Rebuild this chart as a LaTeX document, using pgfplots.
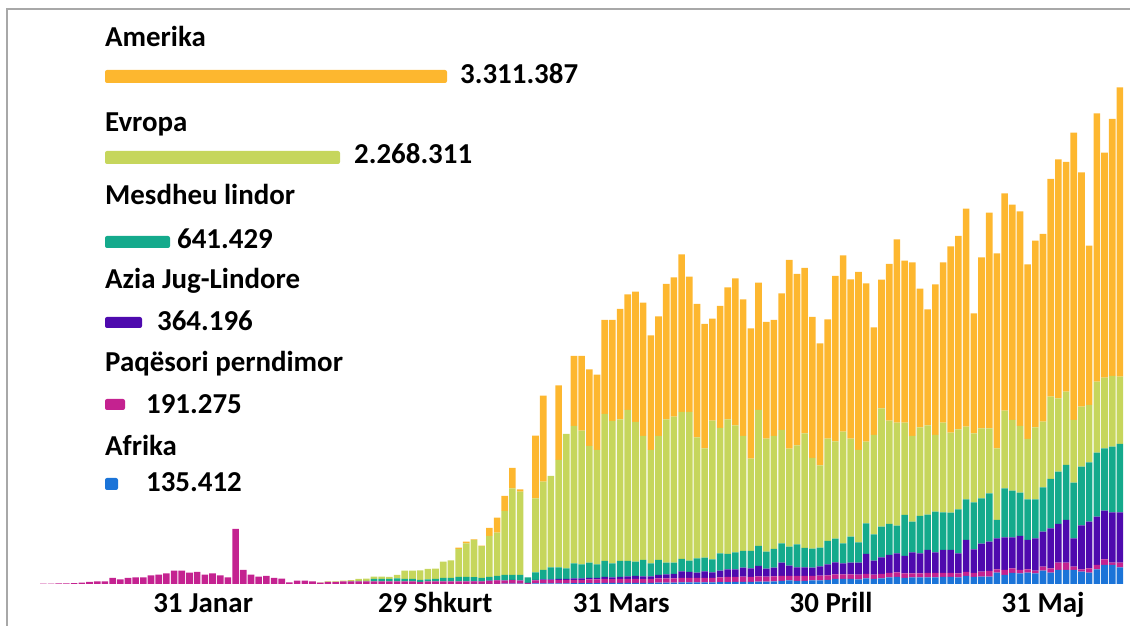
\documentclass[border=0pt]{standalone}
\usepackage{pgfplots}
\pgfplotsset{compat=1.18}
\usepackage{pgfplotstable}
\usepackage{fontspec}
\setmainfont{Carlito}
\definecolor{cAm}{HTML}{FDB72F}
\definecolor{cEu}{HTML}{C6D65C}
\definecolor{cEm}{HTML}{14AA8C}
\definecolor{cSe}{HTML}{4E0AAE}
\definecolor{cWp}{HTML}{C42290}
\definecolor{cAf}{HTML}{1B74D8}
\definecolor{frm}{HTML}{A8A8A8}
\newcommand{\lf}{\fontsize{29}{34}\selectfont\bfseries}

\pgfplotstableread{
i b m p t g o
0 0 0.3 0 0 0 0
1 0 0.3 0 0 0 0
2 0 0.5 0 0 0 0
3 0 0.5 0 0 0 0
4 0 0.8 0 0 0 0
5 0 1.3 0 0 0 0
6 0 2 0 0 0 0
7 0 2.7 0 0 0 0
8 0 2.7 0 0 0 0
9 0 6 0 0 0 0
10 0 4.7 0 0 0 0
11 0 6 0 0 0 0
12 0 6.7 0 0 0 0
13 0 6.7 0 0 0 0
14 0 8.7 0 0 0 0
15 0 9.3 0 0 0 0
16 0 10.7 0 0 0 0
17 0 13.3 0 0 0 0
18 0 13.3 0 0 0 0
19 0 11.3 0 0 0 0
20 0 12 0 0 0 0
21 0 9.3 0 0 0 0
22 0 10.7 0 0 0 0
23 0 8.7 0 0 0 0
24 0 6.7 0 0 0 0
25 0 55 0 0 0 0
26 0 14 0 0 0 0
27 0 9.3 0 0 0 0
28 0 7.3 0 0 0 0
29 0 8 0 0 0 0
30 0 6 0 0 0 0
31 0 5.3 0 0 0 0
32 0 1.7 0 0 0 0
33 0 3.3 0 0 0 0
34 0 3.3 0 0 0 0
35 0 2.7 0 0 0 0
36 0 1.3 0 0 0.3 0
37 0 2 0 0 0.5 0
38 0 2 0 0 0.5 0
39 0 2.5 0 0 0.8 0
40 0 2.5 0 0.3 1.0 0
41 0 2.5 0 0.5 2 0
42 0 2.5 0 0.5 2.3 0
43 0 2.5 0 2.5 2.3 0
44 0 2.5 0 2.5 2.3 0
45 0 2.5 0 2.5 2 0
46 0 2.5 0 3 3.5 0
47 0 2.5 0 2.5 8.3 0
48 0 2.5 0 2.5 8.3 0
49 0 2.2 0 1.8 9.7 0
50 0 2.5 0 2 10.5 0
51 0 2.5 0 2.5 10.3 0
52 0 2.5 0 3.5 16.3 0
53 0 2.5 0 3.5 17.7 0
54 0 2.5 0 4.5 28 1.3
55 0 2.5 0 4.5 33.6 1.7
56 0.2 2.5 0.2 4 37.3 0.5
57 0.2 2.3 0.2 3.3 31.8 0.5
58 0.2 2.8 0.3 3.7 41 8
59 0.2 3.3 0.3 4.2 43.3 15
60 0.3 3 0.3 5.4 64 15
61 0.3 3.5 0.4 4.8 86.7 20.3
62 0.3 3 0.4 5.3 83.3 2.4
63 0.2 0.8 0.2 5.5 0 0
64 0.5 3 0.5 7.7 74 62.6
65 0.5 3.3 0.7 9.5 88.3 86
66 0.6 3.2 0.7 12.2 91.3 0
67 0.7 3.3 1 11.7 107.3 74.7
68 0.7 3.3 1 10.7 134.3 0
69 0.8 3.4 1.3 15.2 137.3 70
70 0.8 3.4 1.3 14.2 133.6 74.7
71 0.9 3.6 1.5 15.3 116.7 76.7
72 0.9 3.6 1.5 13.7 114.3 75.3
73 1 4 2 16 147 94
74 1 3.8 1.7 14.2 142.3 101
75 1 4 2 16 141.7 110.3
76 1.1 3.9 2.5 15.5 151 115.7
77 1.1 4.1 2.8 14.3 139.7 130.3
78 1.2 3.8 2.5 16.5 124 133.3
79 1.2 3.8 2.5 13.2 113.3 114.7
80 1.3 4.2 3.5 15 124 119.7
81 1.3 4.2 4 11.8 143.4 135.3
82 1.4 4.3 4.3 11.3 146 139.4
83 1.5 4.5 6.5 12.5 147 157.5
84 1.5 4.5 6 11.3 148.7 135.3
85 1.6 4.4 5.3 14.4 121 133.3
86 1.7 4.5 6.5 13.6 109.4 124.3
87 1.7 4.3 5.7 13 138.6 102
88 1.8 4.7 6.8 17.4 125.3 122
89 1.9 5.1 7.7 15.3 134.7 132
90 2 5 7.7 17 127 147
91 2 5.3 9 16.7 115 136.7
92 2.1 5.1 8.5 17.3 92.3 130.4
93 2.3 5.2 10.5 20 136 127.3
94 2.3 5 8 17 113 116.7
95 2.5 5 8.8 18.7 113 116
96 3 5 13.3 19.4 113.3 136.7
97 3.5 4.5 10.3 19 98 188.7
98 3.2 4.8 8.7 23 99 171.3
99 3.2 4.8 8.7 19.3 114.7 165.3
100 3.5 4.5 8.3 19 90.7 141
101 3.7 4.6 9.4 18.6 82.4 122
102 4 4.7 11 23.3 102.3 119.4
103 5 4.5 12 23.8 97.2 165.7
104 5 4.5 11.2 20 111.6 176.4
105 5 4.5 11.8 26 98 159.4
106 4.7 4.6 12 20.4 92.3 178
107 5.5 4.5 20 30.7 81.6 158.4
108 5 4.3 14 26.4 99.3 107.7
109 5.5 4.5 16.7 30.6 118.4 128.6
110 6.5 4.5 18 31 103.3 156.7
111 7 4.5 19.2 27.6 103 183.4
112 6 4.5 17.5 41 92.3 162
113 6.5 4 21.2 30.6 85.7 173.7
114 6.5 4 20.2 37.3 88.7 138.6
115 6.5 4.5 23 35.3 89.4 116
116 6.5 4.5 20.7 40.6 76.7 150.7
117 7 4 23 37.7 89.6 160.4
118 7 4 23 37.3 80 186.4
119 6.5 4 20.2 44 80 193.3
120 8 4 32 40.7 72.6 218
121 7 4 23.7 47 69 120
122 7.3 5 28 45.2 70 171.2
123 7.3 5.7 29.3 48.4 65 215.6
124 11.3 3.4 31 18.3 71.7 195
125 9 5 32.7 49 77.6 217.4
126 11 4.7 31 46.6 70.7 215.3
127 10.7 3.3 34 43.3 66.7 214.7
128 11.3 3.4 29.3 40.7 60.3 174.7
129 10.7 2.6 32.4 39 72 186.6
130 13.3 4 35 44.4 65.6 187.7
131 11.3 4.4 40 49.3 82.3 217.7
132 14 7.3 38.7 52.3 73.4 239
133 14 7.3 42.7 55 73.3 229.7
134 14 3.3 28.4 55.6 62.7 287.3
135 12.3 2.4 44 58.6 60 234.4
136 11.3 4.4 46.6 59.4 57.3 159.3
137 14.7 4.3 48.3 64 71 268.4
138 19 5.7 48.6 62.4 70.6 225
139 19 2.3 50.4 65.6 70.7 257
140 16.7 4.6 50.4 68.3 67.3 289.4
}\data

\begin{document}
\begin{tikzpicture}[x=1bp,y=1bp]
\path[use as bounding box] (0,0) rectangle (1130,626);
\draw[frm, line width=2bp] (7,-2) -- (7,617) -- (1132,617);
\begin{axis}[at={(8,42)}, anchor=south west, scale only axis,
  width=1122bp, height=575bp,
  xmin=-4.84, xmax=141.07, ymin=0, ymax=575,
  enlargelimits=false,
  ybar stacked, bar width=0.86,
  axis line style={draw=none}, tick style={draw=none},
  ytick=\empty,
  xtick={20.78,50.95,75.14,102.44,130.01},
  xticklabels={31 Janar,29 Shkurt,31 Mars,30 Prill,31 Maj},
  xticklabel style={font=\lf, anchor=base, yshift=-29bp, inner sep=0pt},
  clip=false]
\addplot[fill=cAf, draw=none] table[x=i,y=b]{\data};
\addplot[fill=cWp, draw=none] table[x=i,y=m]{\data};
\addplot[fill=cSe, draw=none] table[x=i,y=p]{\data};
\addplot[fill=cEm, draw=none] table[x=i,y=t]{\data};
\addplot[fill=cEu, draw=none] table[x=i,y=g]{\data};
\addplot[fill=cAm, draw=none] table[x=i,y=o]{\data};
\end{axis}
% legend
\begin{scope}[every node/.style={anchor=base west, inner sep=0pt, font=\lf}]
\node at (105,579) {Amerika};
\fill[cAm, rounded corners=2bp] (105,543) rectangle (447,556);
\node at (460,542) {3.311.387};
\node at (105,494) {Evropa};
\fill[cEu, rounded corners=2bp] (105,462) rectangle (340,475);
\node at (354,462) {2.268.311};
\node at (105,421) {Mesdheu lindor};
\fill[cEm, rounded corners=2bp] (105,378) rectangle (170,390);
\node at (177,377) {641.429};
\node at (105,337) {Azia Jug-Lindore};
\fill[cSe, rounded corners=2bp] (105,298) rectangle (142,309);
\node at (157,295) {364.196};
\node at (105,254) {Paqësori perndimor};
\fill[cWp, rounded corners=2bp] (105,216) rectangle (125,227);
\node at (146,212) {191.275};
\node at (105,170) {Afrika};
\fill[cAf, rounded corners=2bp] (105,136) rectangle (118,148);
\node at (146,134) {135.412};
\end{scope}
\end{tikzpicture}
\end{document}
